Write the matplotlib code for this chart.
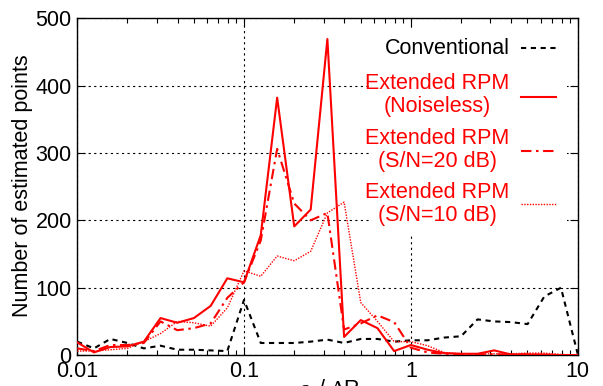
import matplotlib
matplotlib.use('Agg')
import matplotlib.pyplot as plt
from matplotlib.patches import Rectangle
from matplotlib.ticker import FixedLocator, FixedFormatter, LogLocator, NullFormatter

plt.rcParams['font.family'] = ['Liberation Sans', 'DejaVu Sans']
plt.rcParams['mathtext.fontset'] = 'custom'
plt.rcParams['mathtext.rm'] = 'Liberation Serif'
plt.rcParams['mathtext.it'] = 'Liberation Serif:italic'

# error ratio eps_i / dR (0.1 decade steps)
ratio = [0.01, 0.0126, 0.0158, 0.02, 0.0251, 0.0316, 0.0398, 0.0501, 0.0631, 0.0794,
         0.1, 0.126, 0.158, 0.2, 0.251, 0.316, 0.398, 0.501, 0.631, 0.794,
         1.0, 1.26, 1.58, 2.0, 2.51, 3.16, 3.98, 5.01, 6.31, 7.94, 10.0]

conventional = [20, 10, 24, 18, 10, 14, 8, 8, 7, 6,
                82, 18, 18, 18, 20, 23, 18, 24, 24, 20,
                22, 22, 26, 28, 53, 50, 49, 46, 87, 100, 2]
noiseless = [19, 4, 12, 13, 20, 55, 48, 55, 73, 114,
             108, 178, 382, 191, 216, 469, 27, 52, 40, 6,
             15, 8, 3, 2, 2, 7, 1, 1, 1, 0, 0]
snr20 = [10, 6, 15, 15, 18, 50, 37, 40, 47, 85,
         108, 170, 306, 225, 200, 211, 38, 47, 59, 49,
         11, 4, 2, 1, 1, 1, 1, 1, 0, 0, 0]
snr10 = [6, 6, 8, 10, 20, 32, 50, 48, 43, 70,
         125, 117, 147, 140, 154, 211, 227, 78, 50, 20,
         20, 14, 4, 2, 2, 2, 2, 3, 3, 1, 0]

xticks = [0.01, 0.1, 1, 10]
xticklabels = ['0.01', '0.1', '1', '10']
yticks = [0, 100, 200, 300, 400, 500]

dashed = (0, (2.5, 2.2))
dashdot = (0, (5, 2.2, 1.2, 2.2))
dotted = (0, (1, 1))

fig = plt.figure(figsize=(6.03, 3.86), dpi=100)
ax = fig.add_axes([0.128, 0.080, 0.830, 0.873])

ax.plot(ratio, conventional, color='black', lw=1.5, ls=dashed, zorder=3)
ax.plot(ratio, noiseless, color='red', lw=1.5, ls='-', zorder=4)
ax.plot(ratio, snr20, color='red', lw=1.5, ls=dashdot, zorder=4)
ax.plot(ratio, snr10, color='red', lw=1.0, ls=dotted, zorder=4)

ax.set_xscale('log')
ax.set_xlim(0.01, 10)
ax.set_ylim(0, 500)
ax.xaxis.set_major_locator(FixedLocator(xticks))
ax.xaxis.set_major_formatter(FixedFormatter(xticklabels))
ax.xaxis.set_minor_locator(LogLocator(base=10, subs=range(2, 10)))
ax.xaxis.set_minor_formatter(NullFormatter())
ax.set_yticks(yticks)

ax.tick_params(which='both', direction='in', top=True, right=True, labelsize=15.5, width=0.8)
ax.tick_params(which='major', length=6, pad=4)
ax.tick_params(which='minor', length=3.5)
for s in ax.spines.values():
    s.set_linewidth(1.0)

ax.set_axisbelow(True)
ax.grid(True, which='major', color='black', lw=0.8, ls=(0, (2, 3)))

# opaque key area
ax.add_patch(Rectangle((0.59, 0.356), 0.388, 0.608, transform=ax.transAxes,
                       facecolor='white', edgecolor='none', zorder=2))

labels = ['Conventional', 'Extended RPM\n(Noiseless)',
          'Extended RPM\n(S/N=20 dB)', 'Extended RPM\n(S/N=10 dB)']
colors = ['black', 'red', 'red', 'red']
styles = [(dashed, 1.5), ('-', 1.5), (dashdot, 1.5), (dotted, 1.0)]
text_y = [0.911, 0.772, 0.608, 0.448]
line_y = [0.911, 0.766, 0.605, 0.448]
for lab, c, (ls, lw), ty, ly in zip(labels, colors, styles, text_y, line_y):
    ax.text(0.864, ty, lab, transform=ax.transAxes, ha='right', va='center',
            multialignment='center', color=c, fontsize=15.5, linespacing=1.1, zorder=5)
    ax.plot([0.886, 0.956], [ly, ly], transform=ax.transAxes, color=c, ls=ls, lw=lw,
            zorder=5, clip_on=False)

fig.text(23 / 603, 1 - 186 / 386, 'Number of estimated points', rotation=90,
         ha='center', va='center', fontsize=15.5)
fig.text(330 / 603, 1 - 377 / 386, r'$\varepsilon_i$ / $\Delta$R', ha='center', va='top',
         fontsize=15.5)

fig.savefig('out.png', dpi=100)
